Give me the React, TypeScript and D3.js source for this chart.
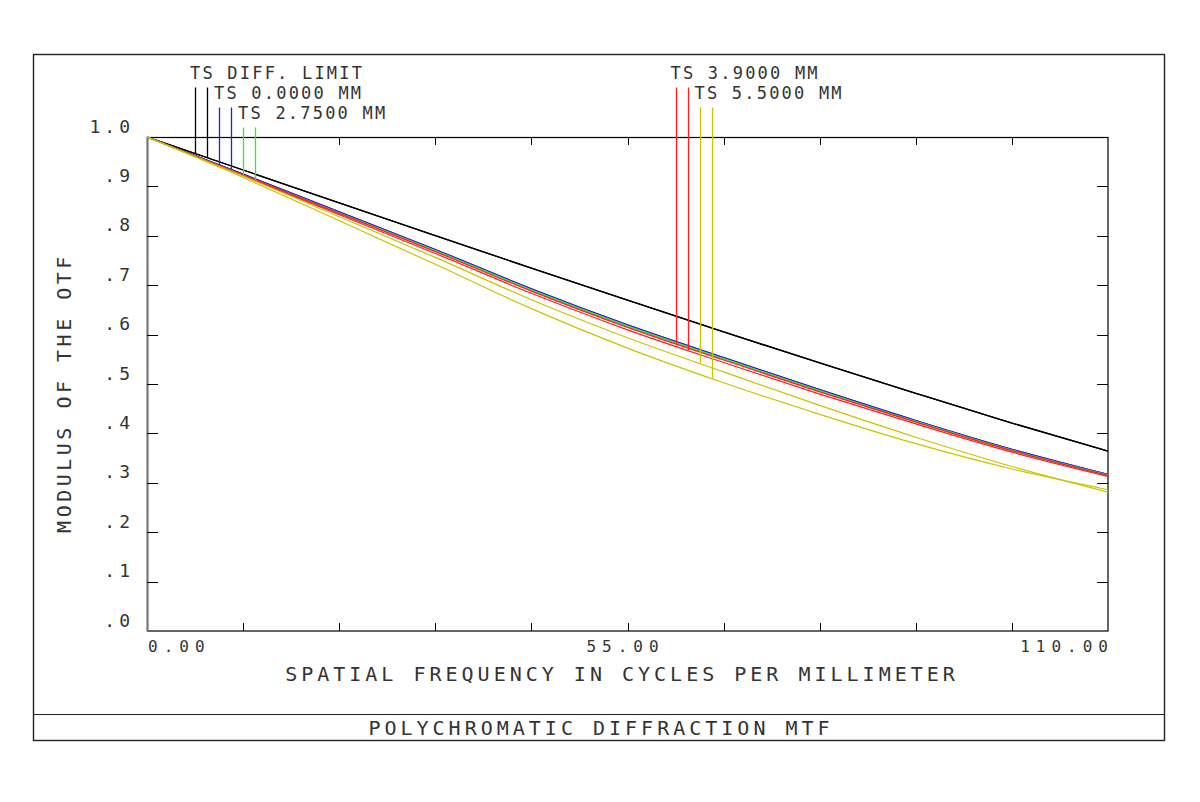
import React from 'react';
import * as d3 from 'd3';

// ---- data ----
const freqs = [0, 11, 22, 33, 44, 55, 66, 77, 88, 99, 110];
const diffLimitT = [1.0, 0.9332, 0.8665, 0.8003, 0.7346, 0.6696, 0.6055, 0.5426, 0.4812, 0.421, 0.364];
const diffLimitS = [1.0, 0.9332, 0.8665, 0.8003, 0.7346, 0.6696, 0.6055, 0.5426, 0.4812, 0.421, 0.364];
const field0T = [1.0, 0.925, 0.8485, 0.7723, 0.6926, 0.6196, 0.5535, 0.4886, 0.4262, 0.368, 0.317];
const field0S = [1.0, 0.925, 0.8485, 0.7723, 0.6926, 0.6196, 0.5535, 0.4886, 0.4262, 0.368, 0.317];
const field275T = [1.0, 0.923, 0.8465, 0.7703, 0.6906, 0.6176, 0.5515, 0.4866, 0.4242, 0.366, 0.316];
const field275S = [1.0, 0.922, 0.8455, 0.7693, 0.6896, 0.6166, 0.5505, 0.4856, 0.4232, 0.365, 0.315];
const field39T = [1.0, 0.9235, 0.8455, 0.768, 0.688, 0.6146, 0.5485, 0.4841, 0.4227, 0.365, 0.315];
const field39S = [1.0, 0.922, 0.8425, 0.7643, 0.6836, 0.6096, 0.5435, 0.4796, 0.4192, 0.362, 0.313];
const field55T = [1.0, 0.921, 0.8385, 0.7563, 0.6706, 0.5936, 0.5245, 0.4566, 0.3922, 0.333, 0.281];
const field55S = [1.0, 0.918, 0.8305, 0.7423, 0.6526, 0.5726, 0.5025, 0.4386, 0.3792, 0.328, 0.286];

const legendLabels = ['TS DIFF. LIMIT', 'TS 0.0000 MM', 'TS 2.7500 MM', 'TS 3.9000 MM', 'TS 5.5000 MM'];
const legendRows = [0, 1, 2, 0, 1];
const legendMarkerFreqs = [
  [5.5, 6.875],
  [8.25, 9.625],
  [11.0, 12.375],
  [60.5, 61.875],
  [63.25, 64.625],
];
const seriesColors = ['#000000', '#1f1fe6', '#3de03d', '#ff1f1f', '#c9c400'];
const seriesPairs = [
  [diffLimitT, diffLimitS],
  [field0T, field0S],
  [field275T, field275S],
  [field39T, field39S],
  [field55T, field55S],
];

const yTickValues = [0, 0.1, 0.2, 0.3, 0.4, 0.5, 0.6, 0.7, 0.8, 0.9, 1.0];
const yTickLabels = ['.0', '.1', '.2', '.3', '.4', '.5', '.6', '.7', '.8', '.9', '1.0'];
const xMinorTicks = [11, 22, 33, 44, 55, 66, 77, 88, 99];
const xLabelValues = [0, 55, 110];
const xLabels = ['0.00', '55.00', '110.00'];

const xTitle = 'SPATIAL FREQUENCY IN CYCLES PER MILLIMETER';
const yTitle = 'MODULUS OF THE OTF';
const chartTitle = 'POLYCHROMATIC DIFFRACTION MTF';

const W = 1200;
const H = 802;
const FONT = '"DejaVu Sans Mono", "Liberation Mono", monospace';
const TXT = '#333333';

const snap = (v: number) => Math.round(v) + 0.5;

export default function App() {
  const x = d3.scaleLinear().domain([0, 110]).range([147, 1108]);
  const y = d3.scaleLinear().domain([0, 1]).range([631, 137]);
  const line = d3
    .line<number>()
    .x((_, i) => x(freqs[i]))
    .y((d) => y(d))
    .curve(d3.curveMonotoneX);

  const legendBaselines = [80, 100, 120];

  return (
    <svg
      width={W}
      height={H}
      viewBox={`0 0 ${W} ${H}`}
      style={{ position: 'absolute', left: 0, top: 0, display: 'block', background: '#fff' }}
    >
      <rect x={0} y={0} width={W} height={H} fill="#fff" />
      {/* outer frame */}
      <rect x={33.5} y={54.5} width={1131} height={686} fill="none" stroke="#222" strokeWidth={1.4} />
      <line x1={33} x2={1165} y1={714.5} y2={714.5} stroke="#222" strokeWidth={1.2} />

      {/* plot box */}
      <rect x={147.5} y={137.5} width={960.5} height={493.5} fill="none" stroke="#000" strokeWidth={1.2} />
      <line x1={147.5} x2={147.5} y1={137} y2={631} stroke="#777" strokeWidth={2} />

      {/* x ticks top & bottom */}
      {xMinorTicks.map((v) => (
        <g key={'xt' + v}>
          <line x1={snap(x(v))} x2={snap(x(v))} y1={137} y2={145} stroke="#000" strokeWidth={1} />
          <line x1={snap(x(v))} x2={snap(x(v))} y1={631} y2={623} stroke="#000" strokeWidth={1} />
        </g>
      ))}
      {/* y ticks left & right */}
      {yTickValues.slice(1, -1).map((v) => (
        <g key={'yt' + v}>
          <line x1={147} x2={158} y1={snap(y(v))} y2={snap(y(v))} stroke="#000" strokeWidth={1} />
          <line x1={1097} x2={1108} y1={snap(y(v))} y2={snap(y(v))} stroke="#000" strokeWidth={1} />
        </g>
      ))}

      {/* y tick labels */}
      {yTickValues.map((v, i) => (
        <text
          key={'yl' + v}
          x={130 + 4}
          y={y(v) - 4.5}
          textAnchor="end"
          fontFamily={FONT}
          fontSize={18}
          letterSpacing={4}
          fill={TXT}
        >
          {yTickLabels[i]}
        </text>
      ))}

      {/* x tick labels */}
      {xLabelValues.map((v, i) => (
        <text
          key={'xl' + v}
          x={i === 0 ? x(v) + 1 : i === 2 ? x(v) + 6 : x(v) - 2}
          y={652}
          textAnchor={i === 0 ? 'start' : i === 2 ? 'end' : 'middle'}
          fontFamily={FONT}
          fontSize={16}
          letterSpacing={6}
          fill={TXT}
        >
          {xLabels[i]}
        </text>
      ))}

      {/* axis titles */}
      <text x={622} y={681} textAnchor="middle" fontFamily={FONT} fontSize={20} letterSpacing={4} fill={TXT}>
        {xTitle}
      </text>
      <text
        transform={`translate(71, 393) rotate(-90)`}
        textAnchor="middle"
        fontFamily={FONT}
        fontSize={20}
        letterSpacing={3.5}
        fill={TXT}
      >
        {yTitle}
      </text>
      <text x={601} y={735} textAnchor="middle" fontFamily={FONT} fontSize={20} letterSpacing={4} fill={TXT}>
        {chartTitle}
      </text>

      {/* curves */}
      {seriesPairs.map((pair, si) =>
        pair.map((vals, k) => (
          <path
            key={'c' + si + '-' + k}
            d={line(vals) || ''}
            fill="none"
            stroke={seriesColors[si]}
            strokeWidth={si === 0 ? 1.3 : 1.2}
          />
        ))
      )}

      {/* legend markers and labels */}
      {legendLabels.map((lab, li) => {
        const base = legendBaselines[legendRows[li]];
        const top = base + 7.5;
        return (
          <g key={'lg' + li}>
            {legendMarkerFreqs[li].map((f, k) => {
              const interp = d3.scaleLinear().domain(freqs).range(seriesPairs[li][k]);
              return (
                <line
                  key={'m' + k}
                  x1={snap(x(f))}
                  x2={snap(x(f))}
                  y1={top}
                  y2={y(interp(f))}
                  stroke={seriesColors[li]}
                  strokeWidth={1.3}
                />
              );
            })}
            <text
              x={x(legendMarkerFreqs[li][0]) - 5}
              y={base - 1}
              fontFamily={FONT}
              fontSize={17}
              letterSpacing={2.2}
              fill={TXT}
            >
              {lab}
            </text>
          </g>
        );
      })}
    </svg>
  );
}
